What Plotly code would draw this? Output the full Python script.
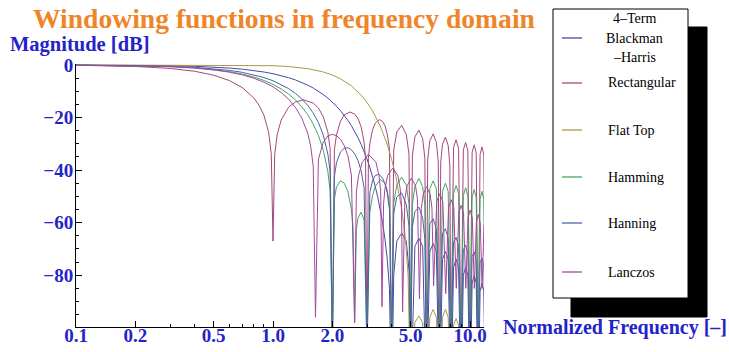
import plotly.graph_objects as go

# ---------------- data ----------------
SERIES = ["4\u2013Term Blackman \u2013Harris", "Rectangular", "Flat Top", "Hamming", "Hanning", "Lanczos"]

F_BH = [0.1,0.2,0.3,0.4,0.5,0.6,0.7,0.8,0.9,1.0,1.1,1.2,1.3,1.4,1.5,1.6,1.7,1.8,1.9,2.0,
        2.1,2.2,2.3,2.4,2.5,2.6,2.7,2.8,2.9,3.0,3.1,3.2,3.3,3.4,3.5,3.6,3.7,3.8,3.9,4.0,
        4.1,4.25,4.5,4.75,4.9,5.0,
        5.25,5.5,5.75,6.0,
        6.25,6.5,6.75,7.0,
        7.25,7.5,7.75,8.0,
        8.25,8.5,8.75,9.0,
        9.25,9.5,9.75,10.0,
        10.25,10.5,10.75,11.0,
        11.25,11.5,11.75,12.0]
DB_BH = [-0.03,-0.13,-0.29,-0.52,-0.83,-1.19,-1.62,-2.13,-2.70,-3.34,-4.06,-4.85,-5.71,-6.66,-7.68,-8.79,-9.98,-11.3,-12.64,-14.1,
         -15.7,-17.4,-19.2,-21.1,-23.1,-25.3,-27.7,-30.2,-32.9,-35.8,-38.9,-42.3,-46.1,-50.2,-54.8,-60.0,-66.2,-73.8,-85,-130,
         -80,-67,-64,-67,-78,-130,
         -69,-66,-69,-130,
         -71,-68,-71,-130,
         -74,-71,-74,-130,
         -77,-74,-77,-130,
         -80,-77,-80,-130,
         -83,-80,-83,-130,
         -86,-83,-86,-130]

F_RECT = [0.1,0.2,0.3,0.4,0.5,0.6,0.7,0.8,0.85,0.9,0.95,0.98,1.0,
          1.02,1.05,1.1,1.2,1.3,1.43,1.6,1.7,1.8,1.9,1.95,2.0,
          2.05,2.1,2.2,2.3,2.46,2.6,2.7,2.8,2.9,2.95,3.0,
          3.05,3.1,3.2,3.3,3.47,3.6,3.7,3.8,3.9,4.0,
          4.1,4.25,4.5,4.75,4.9,5.0,
          5.1,5.25,5.5,5.75,5.9,6.0,
          6.1,6.25,6.5,6.75,6.9,7.0,
          7.1,7.25,7.5,7.75,7.9,8.0,
          8.25,8.5,8.75,9.0,
          9.25,9.5,9.75,10.0,
          10.25,10.5,10.75,11.0,
          11.25,11.5,11.75,12.0]
DB_RECT = [-0.14,-0.58,-1.33,-2.42,-3.92,-5.94,-8.68,-12.6,-15.4,-19.2,-25.6,-33.8,-67,
           -34.2,-26.5,-21.0,-16.1,-14.1,-13.3,-14.5,-16.4,-19.7,-25.7,-31.9,-110,
           -32.3,-26.6,-21.4,-19.0,-17.9,-18.7,-20.4,-23.5,-29.4,-35.5,-110,
           -35.7,-30.0,-24.7,-22.2,-20.8,-21.5,-23.1,-26.2,-32.0,-110,
           -32.4,-25.5,-23.0,-26.5,-33.9,-110,
           -34.3,-27.4,-24.8,-28.1,-35.6,-110,
           -35.8,-28.9,-26.2,-29.5,-36.9,-110,
           -37.2,-30.2,-27.5,-30.7,-38.1,-110,
           -31.3,-28.5,-31.8,-110,
           -32.3,-29.5,-32.7,-110,
           -33.2,-30.4,-33.5,-110,
           -34.0,-31.2,-34.3,-110]

F_FT = [0.1,0.5,0.9,1.0,1.2,1.5,1.8,2.0,2.2,2.5,
        2.8,3.0,3.2,3.5,3.8,4.0,4.2,4.5,4.7,4.85,5.0,
        5.25,5.5,5.75,6.0,
        6.25,6.5,6.75,7.0,
        7.25,7.5,7.75,8.0,
        8.25,8.5,8.75,9.0]
DB_FT = [0.0,-0.01,-0.19,-0.30,-0.61,-1.41,-2.68,-3.83,-5.27,-7.98,
         -11.46,-14.25,-17.46,-23.2,-30.2,-35.9,-42.4,-54.8,-66,-80,-130,
         -98,-95.5,-98,-130,
         -96,-93,-96,-130,
         -96,-93,-96,-130,
         -99,-96.5,-99,-130]

F_HAMM = [0.1,0.2,0.3,0.4,0.5,0.6,0.7,0.8,0.9,1.0,1.1,1.2,1.3,1.4,1.5,1.6,1.7,1.8,1.9,1.95,2.0,
          2.05,2.1,2.2,2.3,2.4,2.5,2.55,2.598,
          2.65,2.7,2.8,2.9,3.0,
          3.1,3.2,3.3,3.5,3.7,3.8,3.9,4.0,
          4.1,4.25,4.5,4.75,4.9,5.0,
          5.1,5.25,5.5,5.75,5.9,6.0,
          6.25,6.5,6.75,7.0,
          7.25,7.5,7.75,8.0,
          8.25,8.5,8.75,9.0,
          9.25,9.5,9.75,10.0,
          10.25,10.5,10.75,11.0,
          11.25,11.5,11.75,12.0]
DB_HAMM = [-0.07,-0.28,-0.62,-1.11,-1.75,-2.54,-3.49,-4.61,-5.92,-7.4,-9.13,-11.1,-13.3,-15.9,-18.9,-22.5,-26.8,-32.4,-40.7,-48.0,-110,
           -50.9,-46.4,-44.1,-45.0,-48.2,-55.0,-61.8,-98,
           -62.7,-58.3,-56.0,-59.0,-110,
           -56.1,-49.7,-46.3,-43.6,-45.0,-47.6,-53.1,-110,
           -52.6,-45.7,-42.7,-45.8,-52.8,-110,
           -53.2,-46.2,-43.2,-46.3,-53.3,-110,
           -47.1,-44.1,-47.2,-110,
           -48.0,-45.0,-48.1,-110,
           -48.9,-45.9,-49.0,-110,
           -49.7,-46.7,-49.8,-110,
           -50.4,-47.4,-50.5,-110,
           -51.1,-48.1,-51.2,-110]

F_HANN = [0.1,0.2,0.3,0.4,0.5,0.6,0.7,0.8,0.9,1.0,1.1,1.2,1.3,1.4,1.5,1.6,1.7,1.8,1.9,1.95,2.0,
          2.05,2.1,2.2,2.3,2.4,2.5,2.6,2.7,2.8,2.9,3.0,
          3.1,3.2,3.3,3.45,3.6,3.7,3.8,3.9,4.0,
          4.1,4.25,4.5,4.75,4.9,5.0,
          5.1,5.25,5.5,5.75,5.9,6.0,
          6.25,6.5,6.75,7.0,
          7.25,7.5,7.75,8.0,
          8.25,8.5,8.75,9.0,
          9.25,9.5,9.75,10.0,
          10.25,10.5,10.75,11.0,
          11.25,11.5,11.75,12.0]
DB_HANN = [-0.06,-0.22,-0.51,-0.91,-1.42,-2.07,-2.84,-3.75,-4.80,-6.02,-7.42,-9.0,-10.84,-12.95,-15.4,-18.3,-21.9,-26.7,-34.0,-40.8,-110,
           -42.4,-37.2,-33.1,-31.7,-31.5,-32.3,-33.9,-36.4,-40.2,-46.8,-110,
           -48.7,-44.0,-42.1,-41.6,-43.1,-45.2,-48.7,-55.0,-110,
           -56.4,-50.2,-48.7,-53.2,-61.2,-110,
           -61.6,-55.8,-54.1,-58.3,-66.4,-110,
           -60.5,-58.5,-62.5,-110,
           -64.2,-62.3,-66.0,-110,
           -67.4,-65.6,-69.0,-110,
           -70.3,-68.5,-71.7,-110,
           -72.9,-71.1,-74.2,-110,
           -75.2,-73.5,-76.4,-110]

F_LANC = [0.1,0.2,0.3,0.4,0.5,0.6,0.7,0.8,0.9,1.0,1.1,1.2,1.3,1.4,1.5,1.55,1.6,1.643,
          1.7,1.8,1.9,2.0,2.1,2.2,2.3,2.4,2.5,2.594,
          2.65,2.72,2.84,3.05,3.33,3.45,3.52,3.575,
          3.64,3.70,3.82,4.06,4.30,4.42,4.49,4.547,
          4.67,4.79,5.04,5.29,5.41,5.538,
          5.66,5.79,6.03,6.28,6.41,6.532,
          6.78,7.03,7.28,7.53,
          7.78,8.03,8.27,8.52,
          8.77,9.02,9.27,9.52,
          9.77,10.02,10.27,10.52,
          10.77,11.02,11.27,11.52,
          11.77,12.0]
DB_LANC = [-0.07,-0.30,-0.67,-1.20,-1.89,-2.76,-3.81,-5.07,-6.57,-8.34,-10.5,-13.0,-16.2,-20.2,-26.0,-30.5,-38.5,-96,
           -35.9,-29.3,-27.0,-26.4,-26.9,-28.3,-30.7,-34.6,-41.9,-98,
           -48,-42,-37,-34,-37,-42,-48,-92,
           -53,-47,-42,-39.2,-42,-47,-53,-94,
           -51,-46,-43.1,-46,-51,-89,
           -54.6,-49.3,-46.3,-49.3,-54.6,-84,
           -52,-49,-52,-87,
           -54.3,-51.3,-54.3,-85,
           -56.4,-53.4,-56.4,-85,
           -58.2,-55.2,-58.2,-85,
           -59.9,-56.9,-59.9,-85,
           -61.4,-58.5]

X_TICKS = [0.1, 0.2, 0.5, 1.0, 2.0, 5.0, 10.0]
X_TICK_TEXT = ["0.1", "0.2", "0.5", "1.0", "2.0", "5.0", "10.0"]
X_MINOR = [0.3, 0.4, 0.6, 0.7, 0.8, 0.9, 3, 4, 6, 7, 8, 9]
Y_TICKS = [0, -20, -40, -60, -80]
Y_TICK_TEXT = ["0", "\u221220", "\u221240", "\u221260", "\u221280"]
Y_MINOR = [-5, -10, -15, -25, -30, -35, -45, -50, -55, -65, -70, -75, -85, -90, -95]

# ---------------- styling ----------------
COLORS = ["#4a48a6", "#a4477c", "#a8994a", "#47a362", "#4766a4", "#a4479b"]
W, H = 729, 352
L, R, T, B = 76, 245, 64, 25
BLUE = "#2323c8"
SERIF = "Liberation Serif"
AX_FONT = dict(family=SERIF, size=19, color=BLUE, weight="bold")


def px_x(px):
    return (px - L) / (W - L - R)


def px_y(py):
    return (H - B - py) / (H - T - B)


fig = go.Figure()
data = [(F_BH, DB_BH), (F_RECT, DB_RECT), (F_FT, DB_FT), (F_HAMM, DB_HAMM), (F_HANN, DB_HANN), (F_LANC, DB_LANC)]
for name, (fx, fy), col in zip(SERIES, data, COLORS):
    fig.add_trace(go.Scatter(x=fx, y=fy, mode="lines", name=name,
                             line=dict(color=col, width=1), showlegend=False, hoverinfo="skip"))

fig.update_layout(
    width=W, height=H, margin=dict(l=L, r=R, t=T, b=B, autoexpand=False),
    paper_bgcolor="white", plot_bgcolor="white",
    xaxis=dict(type="log", range=[-1, 1.071], showgrid=False, zeroline=False, automargin=False,
               showline=True, linecolor="black", linewidth=1,
               ticks="inside", ticklen=6, tickcolor="black", tickwidth=1,
               tickvals=X_TICKS, ticktext=X_TICK_TEXT, tickfont=AX_FONT, ticklabelstandoff=-9,
               minor=dict(tickvals=X_MINOR, ticks="inside", ticklen=3, tickcolor="black", showgrid=False)),
    yaxis=dict(range=[-99.7, 0.35], showgrid=False, zeroline=False, automargin=False,
               showline=True, linecolor="black", linewidth=1,
               ticks="inside", ticklen=6, tickcolor="black", tickwidth=1,
               tickvals=Y_TICKS, ticktext=Y_TICK_TEXT, tickfont=AX_FONT, ticklabelstandoff=-2,
               minor=dict(tickvals=Y_MINOR, ticks="inside", ticklen=3, tickcolor="black", showgrid=False)),
)

ann = []
ann.append(dict(text="Windowing functions in frequency domain", x=px_x(284), y=px_y(18),
                xref="paper", yref="paper", xanchor="center", yanchor="middle", showarrow=False,
                font=dict(family=SERIF, size=27.6, color="#f08428", weight="bold")))
ann.append(dict(text="Magnitude [dB]", x=px_x(8), y=px_y(45), xref="paper", yref="paper",
                xanchor="left", yanchor="middle", showarrow=False,
                font=dict(family=SERIF, size=20.5, color=BLUE, weight="bold")))
ann.append(dict(text="Normalized Frequency [\u2013]", x=px_x(729), y=px_y(327), xref="paper", yref="paper",
                xanchor="right", yanchor="middle", showarrow=False,
                font=dict(family=SERIF, size=20, color=BLUE, weight="bold")))

shapes = []
# legend shadow and box
shapes.append(dict(type="rect", xref="paper", yref="paper", x0=px_x(571), x1=px_x(707), y0=px_y(317), y1=px_y(27),
                   fillcolor="black", line=dict(color="black", width=1), layer="above"))
shapes.append(dict(type="rect", xref="paper", yref="paper", x0=px_x(553), x1=px_x(688), y0=px_y(298), y1=px_y(9),
                   fillcolor="white", line=dict(color="black", width=1), layer="above"))
LEG_Y = [38, 83, 130, 177, 223, 272]
LEG_LABELS = ["Blackman", "Rectangular", "Flat Top", "Hamming", "Hanning", "Lanczos"]
for ly, col, lab in zip(LEG_Y, COLORS, LEG_LABELS):
    shapes.append(dict(type="line", xref="paper", yref="paper", x0=px_x(562), x1=px_x(582), y0=px_y(ly), y1=px_y(ly),
                       line=dict(color=col, width=1.3), layer="above"))
    if lab == "Blackman":
        continue
    ann.append(dict(text=lab, x=px_x(606), y=px_y(ly), xref="paper", yref="paper", xanchor="left", yanchor="middle",
                    showarrow=False, font=dict(family=SERIF, size=14, color="black")))
for txt, ly in [("4\u2013Term", 18), ("Blackman", 38), ("\u2013Harris", 57)]:
    ann.append(dict(text=txt, x=px_x(634), y=px_y(ly), xref="paper", yref="paper", xanchor="center", yanchor="middle",
                    showarrow=False, font=dict(family=SERIF, size=14, color="black")))

fig.update_layout(annotations=ann, shapes=shapes)
fig.write_html("out.html")
